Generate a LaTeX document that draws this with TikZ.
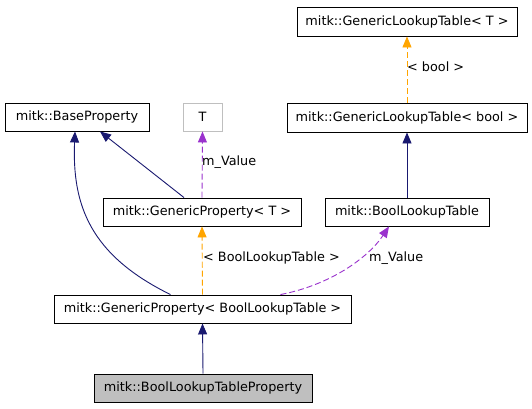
\documentclass[tikz,border=0pt]{standalone}
\usepackage{fontspec}
\setmainfont{DejaVu Sans}
\usetikzlibrary{arrows.meta}
\definecolor{navy}{HTML}{191970}
\definecolor{purp}{HTML}{9A32CD}
\definecolor{orng}{HTML}{FFA500}
\begin{document}
\begin{tikzpicture}[x=1pt,y=-1pt,
  box/.style={draw=black,line width=0.9pt,fill=white,inner sep=0pt,font=\fontsize{12.8}{15}\selectfont},
  lbl/.style={font=\fontsize{12.8}{15}\selectfont,inner sep=0pt},
  inh/.style={-{Triangle[length=11pt,width=9pt,fill=navy]},draw=navy,line width=0.9pt},
  tmpl/.style={-{Triangle[length=11pt,width=9pt,fill=orng]},draw=orng,line width=0.9pt,dash pattern=on 6pt off 3pt},
  use/.style={-{Triangle[length=11pt,width=9pt,fill=purp]},draw=purp,line width=0.9pt,dash pattern=on 6pt off 3pt}]
\useasboundingbox[fill=white] (0,0) rectangle (532,408);
\node[box,minimum width=220pt,minimum height=29pt] (glT) at (407,21.5) {mitk::GenericLookupTable< T >};
\node[box,minimum width=240pt,minimum height=29pt] (glb) at (407,117.5) {mitk::GenericLookupTable< bool >};
\node[box,minimum width=144pt,minimum height=28pt] (bp) at (77,117) {mitk::BaseProperty};
\node[box,draw=black!25,minimum width=39pt,minimum height=28pt] (T) at (202.5,117) {T};
\node[box,minimum width=198pt,minimum height=28pt] (gpT) at (202,212) {mitk::GenericProperty< T >};
\node[box,minimum width=164pt,minimum height=28pt] (blt) at (407,212) {mitk::BoolLookupTable};
\node[box,minimum width=297pt,minimum height=28pt] (gpb) at (202.5,309) {mitk::GenericProperty< BoolLookupTable >};
\node[box,fill=black!25,minimum width=218pt,minimum height=28pt] (bltp) at (203,388) {mitk::BoolLookupTableProperty};

\draw[inh] (bltp.north) -- (gpb.south);
\draw[tmpl] (gpb.north) -- (gpT.south);
\node[lbl,anchor=west] (l1) at (203,258) {< BoolLookupTable >};
\draw[use] ([xshift=78pt]gpb.north) .. controls (330,285) and (368,258) .. ([xshift=-18pt]blt.south);
\node[lbl,anchor=west] (l2) at (369,258) {m\_Value};
\draw[inh] ([xshift=-32pt]gpb.north) .. controls (90,255) and (72,205) .. ([xshift=-2pt]bp.south);
\draw[inh] ([xshift=-18pt]gpT.north) -- ([xshift=23pt]bp.south);
\draw[use] (gpT.north) -- (T.south);
\node[lbl,anchor=west] (l3) at (202,162) {m\_Value};
\draw[inh] (blt.north) -- (glb.south);
\draw[tmpl] (glb.north) -- (glT.south);
\node[lbl,anchor=west] (l4) at (407,67) {< bool >};
\end{tikzpicture}
\end{document}
